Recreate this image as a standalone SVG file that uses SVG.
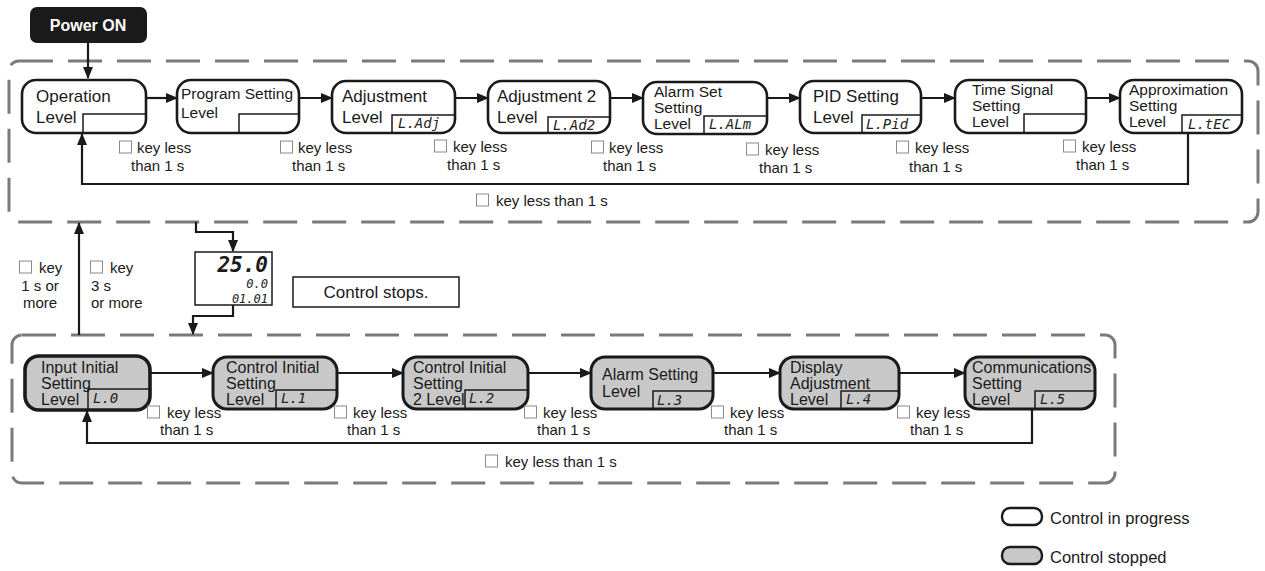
<svg xmlns="http://www.w3.org/2000/svg" width="1265" height="571" viewBox="0 0 1265 571">
<style>
text{font-family:"Liberation Sans",Arial,sans-serif;fill:#1a1a1a}
.t17{font-size:17px}
.t16{font-size:16px}
.t155{font-size:15.5px}
.lbl{font-size:15px}
.seg{font-family:"DejaVu Sans Mono","Liberation Mono",monospace;font-style:italic;font-size:14px;fill:#222}
.node{fill:#fff;stroke:#1a1a1a;stroke-width:2.6}
.gnode{fill:#c8c8c8;stroke:#1a1a1a;stroke-width:3}
.box{fill:none;stroke:#1a1a1a;stroke-width:1.5}
.dash{fill:none;stroke:#7a7a7a;stroke-width:3;stroke-dasharray:34 15}
.conn{fill:none;stroke:#1a1a1a;stroke-width:2.2}
.sq{fill:#fff;stroke:#8a8a8a;stroke-width:1}
</style>
<defs>
<marker id="ah" markerWidth="12" markerHeight="10" refX="11" refY="5" orient="auto" markerUnits="userSpaceOnUse">
<path d="M0,0 L12,5 L0,10 Z" fill="#1a1a1a"/>
</marker>
<symbol id="keysq" overflow="visible"><rect class="sq" x="-0.5" y="-1" width="12" height="12"/></symbol>
</defs>

<!-- dashed group boxes -->
<rect id="grp-top" class="dash" x="9" y="61" width="1249" height="161" rx="10"/>
<rect id="grp-bottom" class="dash" x="12" y="335" width="1103" height="148" rx="10"/>

<!-- Power ON -->
<g id="power-on">
<rect x="30" y="7" width="117" height="36" rx="7" fill="#1a1a1a"/>
<text x="88" y="31" text-anchor="middle" style="font-size:16px;font-weight:bold;fill:#fff">Power ON</text>
</g>

<!-- top row nodes -->
<g id="n-operation">
<rect class="node" x="22" y="80" width="124" height="53" rx="14"/>
<path class="box" d="M83,133 V114 H146"/>
<text class="t17" x="36" y="102">Operation</text>
<text class="t17" x="36" y="123">Level</text>
</g>
<g id="n-program">
<rect class="node" x="177" y="80" width="122" height="53" rx="14"/>
<path class="box" d="M239,133 V114 H299"/>
<text class="t155" x="181" y="99">Program Setting</text>
<text class="t155" x="181" y="118">Level</text>
</g>
<g id="n-adjustment">
<rect class="node" x="332" y="81" width="123" height="52" rx="14"/>
<path class="box" d="M392,133 V115 H455"/>
<text class="t17" x="342" y="102">Adjustment</text>
<text class="t17" x="342" y="123">Level</text>
<text class="seg" x="398" y="128">L.Adj</text>
</g>
<g id="n-adjustment2">
<rect class="node" x="488" y="81" width="122" height="52" rx="14"/>
<path class="box" d="M548,133 V117 H610"/>
<text class="t17" x="497" y="102">Adjustment 2</text>
<text class="t17" x="497" y="123">Level</text>
<text class="seg" x="553" y="130">L.Ad2</text>
</g>
<g id="n-alarmset">
<rect class="node" x="643" y="82" width="124" height="52" rx="14"/>
<path class="box" d="M704,134 V116 H767"/>
<text class="t155" x="654" y="97">Alarm Set</text>
<text class="t155" x="654" y="113">Setting</text>
<text class="t155" x="654" y="129">Level</text>
<text class="seg" x="709" y="129">L.ALm</text>
</g>
<g id="n-pid">
<rect class="node" x="800" y="81" width="121" height="52" rx="14"/>
<path class="box" d="M862,133 V115 H921"/>
<text class="t17" x="813" y="102">PID Setting</text>
<text class="t17" x="813" y="123">Level</text>
<text class="seg" x="866" y="129">L.Pid</text>
</g>
<g id="n-timesignal">
<rect class="node" x="955" y="80" width="131" height="53" rx="14"/>
<path class="box" d="M1024,133 V114 H1086"/>
<text class="t155" x="972" y="95">Time Signal</text>
<text class="t155" x="972" y="111">Setting</text>
<text class="t155" x="972" y="127">Level</text>
</g>
<g id="n-approx">
<rect class="node" x="1120" y="80" width="122" height="53" rx="14"/>
<path class="box" d="M1182,133 V115 H1242"/>
<text class="t155" x="1129" y="95">Approximation</text>
<text class="t155" x="1129" y="111">Setting</text>
<text class="t155" x="1129" y="127">Level</text>
<text class="seg" x="1188" y="129">L.tEC</text>
</g>

<!-- display node -->
<g id="n-display">
<rect x="195" y="252" width="77" height="53" fill="#fff" stroke="#1a1a1a" stroke-width="1.5"/>
<text x="268" y="272" text-anchor="end" style="font-family:'DejaVu Sans Mono','Liberation Mono',monospace;font-style:italic;font-weight:bold;font-size:21px;fill:#1a1a1a">25.0</text>
<text class="seg" x="268" y="288" text-anchor="end" style="font-size:12px">0.0</text>
<text class="seg" x="268" y="303" text-anchor="end" style="font-size:12px">01.01</text>
</g>
<g id="n-control-stops">
<rect x="293" y="277" width="166" height="30" fill="#fff" stroke="#1a1a1a" stroke-width="1.5"/>
<text class="t17" x="376" y="298" text-anchor="middle">Control stops.</text>
</g>

<!-- bottom row nodes -->
<g id="n-input-initial">
<rect class="gnode" x="25" y="356" width="125" height="54" rx="14" style="stroke-width:3.6"/>
<path class="box" d="M88,410 V389 H150"/>
<text class="t16" x="41" y="373">Input Initial</text>
<text class="t16" x="41" y="389">Setting</text>
<text class="t16" x="41" y="405">Level</text>
<text class="seg" x="93" y="403">L.0</text>
</g>
<g id="n-control-initial">
<rect class="gnode" x="213" y="357" width="124" height="52" rx="14"/>
<path class="box" d="M276,409 V390 H337"/>
<text class="t16" x="226" y="373">Control Initial</text>
<text class="t16" x="226" y="389">Setting</text>
<text class="t16" x="226" y="405">Level</text>
<text class="seg" x="281" y="403">L.1</text>
</g>
<g id="n-control-initial2">
<rect class="gnode" x="403" y="357" width="125" height="52" rx="14"/>
<path class="box" d="M465,409 V390 H528"/>
<text class="t16" x="413" y="373">Control Initial</text>
<text class="t16" x="413" y="389">Setting</text>
<text class="t16" x="413" y="405">2 Level</text>
<text class="seg" x="469" y="403">L.2</text>
</g>
<g id="n-alarm-setting">
<rect class="gnode" x="591" y="357" width="122" height="52" rx="14"/>
<path class="box" d="M653,409 V391 H713"/>
<text class="t16" x="602" y="380">Alarm Setting</text>
<text class="t16" x="602" y="397">Level</text>
<text class="seg" x="657" y="405">L.3</text>
</g>
<g id="n-display-adj">
<rect class="gnode" x="780" y="357" width="119" height="52" rx="14"/>
<path class="box" d="M841,409 V391 H899"/>
<text class="t16" x="790" y="373">Display</text>
<text class="t16" x="790" y="389">Adjustment</text>
<text class="t16" x="790" y="405">Level</text>
<text class="seg" x="846" y="404">L.4</text>
</g>
<g id="n-comm">
<rect class="gnode" x="965" y="357" width="130" height="52" rx="14"/>
<path class="box" d="M1035,409 V391 H1095"/>
<text class="t16" x="972" y="373">Communications</text>
<text class="t16" x="972" y="389">Setting</text>
<text class="t16" x="972" y="405">Level</text>
<text class="seg" x="1040" y="404">L.5</text>
</g>

<!-- connectors -->
<g id="connectors">
<path class="conn" d="M88,43 V78" marker-end="url(#ah)"/>
<path class="conn" d="M146,98 H177" marker-end="url(#ah)"/>
<path class="conn" d="M299,98 H332" marker-end="url(#ah)"/>
<path class="conn" d="M455,98 H488" marker-end="url(#ah)"/>
<path class="conn" d="M610,98 H643" marker-end="url(#ah)"/>
<path class="conn" d="M767,98 H800" marker-end="url(#ah)"/>
<path class="conn" d="M921,98 H955" marker-end="url(#ah)"/>
<path class="conn" d="M1086,98 H1120" marker-end="url(#ah)"/>
<path class="conn" d="M1188,133 V184 H82 V134" marker-end="url(#ah)"/>

<path class="conn" d="M79,335 V223" marker-end="url(#ah)"/>
<path class="conn" d="M196,222 V232 H233 V251" marker-end="url(#ah)"/>
<path class="conn" d="M233,305 V316 H193 V334" marker-end="url(#ah)"/>

<path class="conn" d="M150,373 H213" marker-end="url(#ah)"/>
<path class="conn" d="M337,373 H403" marker-end="url(#ah)"/>
<path class="conn" d="M528,373 H591" marker-end="url(#ah)"/>
<path class="conn" d="M713,373 H780" marker-end="url(#ah)"/>
<path class="conn" d="M899,373 H965" marker-end="url(#ah)"/>
<path class="conn" d="M1032,409 V443 H87 V411" marker-end="url(#ah)"/>
</g>

<!-- connector labels -->
<g id="labels" class="lbl">
<use href="#keysq" x="120" y="142"/><text class="lbl" x="137" y="153">key less</text><text class="lbl" x="131" y="171">than 1 s</text>
<use href="#keysq" x="281" y="142"/><text class="lbl" x="298" y="153">key less</text><text class="lbl" x="292" y="171">than 1 s</text>
<use href="#keysq" x="435" y="141"/><text class="lbl" x="453" y="152">key less</text><text class="lbl" x="447" y="170">than 1 s</text>
<use href="#keysq" x="592" y="142"/><text class="lbl" x="609" y="153">key less</text><text class="lbl" x="603" y="171">than 1 s</text>
<use href="#keysq" x="747" y="144"/><text class="lbl" x="765" y="155">key less</text><text class="lbl" x="759" y="173">than 1 s</text>
<use href="#keysq" x="897" y="142"/><text class="lbl" x="915" y="153">key less</text><text class="lbl" x="909" y="172">than 1 s</text>
<use href="#keysq" x="1064" y="141"/><text class="lbl" x="1082" y="152">key less</text><text class="lbl" x="1076" y="170">than 1 s</text>
<use href="#keysq" x="477" y="195"/><text class="lbl" x="496" y="206">key less than 1 s</text>

<use href="#keysq" x="20" y="262"/><text class="lbl" x="39" y="273">key</text>
<text class="lbl" x="40" y="291" text-anchor="middle">1 s or</text>
<text class="lbl" x="40" y="308" text-anchor="middle">more</text>
<use href="#keysq" x="91" y="262"/><text class="lbl" x="110" y="273">key</text>
<text class="lbl" x="91" y="291">3 s</text>
<text class="lbl" x="91" y="308">or more</text>

<use href="#keysq" x="148" y="407"/><text class="lbl" x="167" y="418">key less</text><text class="lbl" x="160" y="435">than 1 s</text>
<use href="#keysq" x="335" y="407"/><text class="lbl" x="353" y="418">key less</text><text class="lbl" x="347" y="435">than 1 s</text>
<use href="#keysq" x="525" y="407"/><text class="lbl" x="543" y="418">key less</text><text class="lbl" x="537" y="435">than 1 s</text>
<use href="#keysq" x="712" y="407"/><text class="lbl" x="730" y="418">key less</text><text class="lbl" x="724" y="435">than 1 s</text>
<use href="#keysq" x="898" y="407"/><text class="lbl" x="916" y="418">key less</text><text class="lbl" x="910" y="435">than 1 s</text>
<use href="#keysq" x="486" y="456"/><text class="lbl" x="505" y="467">key less than 1 s</text>
</g>

<!-- legend -->
<g id="legend">
<rect x="1002" y="508" width="40" height="17" rx="8" fill="#fff" stroke="#1a1a1a" stroke-width="2.4"/>
<text class="t16" x="1050" y="524" style="font-size:16.5px">Control in progress</text>
<rect x="1002" y="547" width="40" height="17" rx="8" fill="#c8c8c8" stroke="#1a1a1a" stroke-width="2.4"/>
<text class="t16" x="1050" y="563" style="font-size:16.5px">Control stopped</text>
</g>
</svg>
